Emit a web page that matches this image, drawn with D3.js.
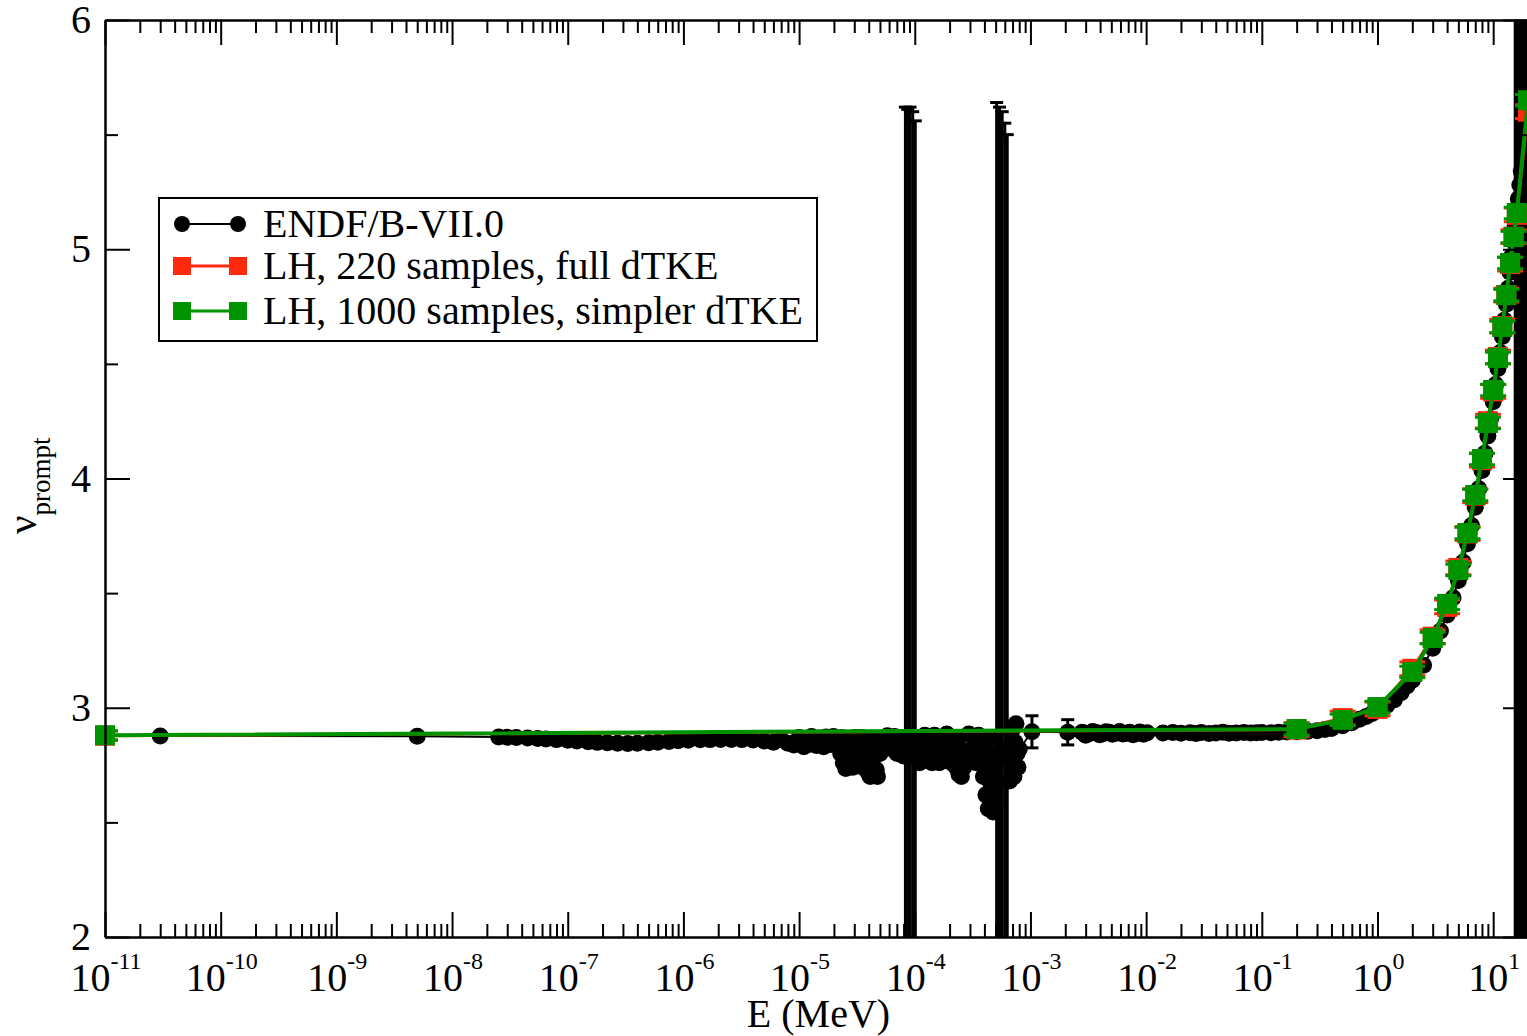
<!DOCTYPE html>
<html><head><meta charset="utf-8">
<script src="https://cdn.jsdelivr.net/npm/d3@7"></script>
<style>
body{margin:0;background:#fff}
svg{display:block}
text{font-family:"Liberation Serif","Times New Roman",Times,serif;fill:#000}
</style>
</head><body>
<svg id="chart" width="1527" height="1036"></svg>
<script>
// ---------------- data ----------------
const xMajorTicks = [1e-11,1e-10,1e-9,1e-8,1e-7,1e-6,1e-5,1e-4,1e-3,1e-2,1e-1,1,10];
const xTickExponents = ["-11","-10","-9","-8","-7","-6","-5","-4","-3","-2","-1","0","1"];
const yMajorTicks = [2,3,4,5,6];
const yMinorTicks = [2.5,3.5,4.5,5.5];
const seriesLabels = ["ENDF/B-VII.0","LH, 220 samples, full dTKE","LH, 1000 samples, simpler dTKE"];
const xTitle = "E (MeV)";

// ENDF/B-VII.0 evaluation (energy in MeV, nu prompt, uncertainty)
const endfE = [
 3e-11,5e-9,2.53e-8,3.0e-8,3.6e-8,4.5e-8,5.5e-8,6.5e-8,8e-8,1e-7,1.2e-7,1.5e-7,1.8e-7,2.2e-7,2.7e-7,3.3e-7,4e-7,5e-7,6e-7,7.5e-7,9e-7,
 1.1e-6,1.4e-6,1.7e-6,2.1e-6,2.6e-6,3.2e-6,4e-6,5e-6,6e-6,7e-6,8e-6,9e-6,
 1.00e-5,1.05e-5,1.10e-5,1.16e-5,1.22e-5,1.28e-5,1.34e-5,1.41e-5,1.48e-5,1.55e-5,1.63e-5,1.71e-5,1.80e-5,1.89e-5,1.98e-5,
 2.08e-5,2.18e-5,2.29e-5,2.35e-5,2.41e-5,2.47e-5,2.53e-5,2.59e-5,2.65e-5,2.72e-5,2.79e-5,2.86e-5,2.93e-5,3.00e-5,3.07e-5,3.15e-5,3.23e-5,
 3.31e-5,3.39e-5,3.47e-5,3.56e-5,3.65e-5,3.73e-5,3.82e-5,3.92e-5,4.02e-5,4.12e-5,4.22e-5,4.32e-5,4.43e-5,4.54e-5,4.65e-5,4.76e-5,
 5.00e-5,5.25e-5,5.52e-5,5.79e-5,6.08e-5,6.39e-5,6.70e-5,7.04e-5,7.39e-5,7.76e-5,8.0e-5,
 8.3e-5,8.7e-5,9.1e-5,9.6e-5,1.01e-4,
 1.05e-4,1.10e-4,1.16e-4,1.22e-4,1.28e-4,1.34e-4,1.41e-4,1.48e-4,1.55e-4,1.63e-4,1.71e-4,1.80e-4,1.89e-4,1.98e-4,
 2.08e-4,2.18e-4,2.29e-4,2.35e-4,2.41e-4,2.47e-4,2.53e-4,2.59e-4,2.65e-4,2.79e-4,2.93e-4,3.07e-4,3.23e-4,3.39e-4,3.56e-4,3.73e-4,
 3.82e-4,3.92e-4,4.02e-4,4.12e-4,4.22e-4,4.32e-4,4.43e-4,4.54e-4,4.65e-4,4.76e-4,4.86e-4,4.95e-4,
 5.1e-4,5.4e-4,5.7e-4,6.0e-4,6.3e-4,
 6.6e-4,6.75e-4,6.9e-4,7.05e-4,7.2e-4,7.35e-4,7.5e-4,7.65e-4,7.8e-4,8.0e-4,
 1.03e-3,2.1e-3,2.8e-3,3.0e-3,3.2e-3,3.45e-3,3.7e-3,3.95e-3,4.2e-3,4.5e-3,4.8e-3,5.1e-3,5.5e-3,5.9e-3,6.3e-3,6.7e-3,7.2e-3,7.7e-3,8.2e-3,8.8e-3,9.5e-3,1.02e-2,
 1.4e-2,1.7e-2,2.0e-2,2.4e-2,2.7e-2,3.0e-2,3.5e-2,4.0e-2,4.6e-2,5.2e-2,6.0e-2,7.0e-2,8.0e-2,9.0e-2,
 0.1,0.12,0.14,0.165,0.2,0.25,0.3,0.35,0.4,0.5,0.6,0.7,0.8,0.9,1.0,1.2,1.4,1.6,1.8,2.0,2.5,3,3.5,4,4.5,5,5.5,6,6.5,7,7.5,8,8.5,9,9.5,
 10,10.5,11,11.5,12,12.5,13,13.5,14,14.5,15,15.5,16,16.5,17,17.5,18,18.5,19,19.5,20
];
const endfNu = [
 2.877,2.876,2.872,2.871,2.870,2.868,2.866,2.864,2.861,2.858,2.855,2.852,2.849,2.847,2.845,2.844,2.845,2.847,2.850,2.853,2.856,
 2.858,2.860,2.861,2.862,2.862,2.861,2.859,2.855,2.850,2.862,2.845,2.838,
 2.870,2.845,2.830,2.862,2.840,2.875,2.850,2.835,2.868,2.845,2.830,2.872,2.850,2.840,2.875,
 2.855,2.838,2.800,2.870,2.760,2.820,2.735,2.860,2.775,2.740,2.820,2.760,2.740,2.800,2.870,2.750,2.790,
 2.830,2.745,2.870,2.830,2.740,2.770,2.850,2.720,2.800,2.700,2.760,2.740,2.860,2.790,2.730,2.700,
 2.800,2.860,2.830,2.878,2.845,2.820,2.875,2.800,2.830,2.870,2.790,
 2.820,2.850,2.800,2.830,2.860,
 2.840,2.760,2.800,2.880,2.770,2.830,2.760,2.880,2.800,2.760,2.850,2.770,2.885,2.800,
 2.760,2.840,2.740,2.860,2.710,2.800,2.700,2.760,2.740,2.810,2.885,2.770,2.830,2.760,2.880,2.780,
 2.840,2.700,2.820,2.620,2.760,2.560,2.680,2.600,2.870,2.545,2.740,2.600,
 2.800,2.780,2.820,2.790,2.810,
 2.680,2.800,2.900,2.760,2.700,2.850,2.930,2.800,2.740,2.820,
 2.895,2.893,2.893,2.880,2.887,2.896,2.892,2.882,2.886,2.895,2.893,2.884,2.889,2.896,2.885,2.888,2.893,2.882,2.887,2.894,2.884,2.891,
 2.890,2.892,2.889,2.891,2.888,2.892,2.888,2.890,2.893,2.889,2.890,2.892,2.890,2.891,
 2.892,2.891,2.893,2.894,2.895,2.897,2.900,2.905,2.910,2.922,2.935,2.950,2.962,2.975,2.990,3.010,3.035,3.065,3.095,3.120,3.185,3.260,3.335,3.405,3.480,3.555,3.635,3.715,3.795,3.875,3.955,4.035,4.110,4.185,4.260,
 4.335,4.410,4.480,4.550,4.620,4.690,4.760,4.830,4.900,4.970,5.035,5.100,5.160,5.220,5.280,5.340,5.400,5.460,5.520,5.580,5.640
];
const endfErr = [
 0,0,0,0,0,0,0,0,0,0,0,0,0,0,0,0,0,0,0,0,0,
 0,0,0,0,0,0,0,0,0,0,0,0,
 0,0,0,0,0,0,0,0,0,0,0,0,0,0,0,
 0,0,0,0,0,0,0,0,0,0,0,0,0,0,0,0,0,
 0,0,0,0,0,0,0,0,0,0,0,0,0,0,0,0,
 0,0,0,0,0,0,0,0,0,0,0,
 2.80,2.76,2.82,2.77,2.70,
 0,0,0,0,0,0,0,0,0,0,0,0,0,0,
 0,0,0,0,0,0,0,0,0,0,0,0,0,0,0,0,
 0,0,0,0,0,0,0,0,0,0,0,0,
 2.84,2.84,2.78,2.76,2.69,
 0,0,0,0,0,0,0,0,0,0,
 0.07,0.055,0,0,0,0,0,0,0,0,0,0,0,0,0,0,0,0,0,0,0,0,
 0,0,0,0,0,0,0,0,0,0,0,0,0,0,
 0,0,0,0,0,0,0,0,0,0,0,0,0,0,0,0,0,0,0,0,0,0,0,0,0,0,0,0,0,0,0,0,0,0,0,
 0,0,0,0,0,0,0,0,0,0,0,3.5,3.6,3.6,4.0,4.0,4.0,4.0,4.0,4.0,4.0
];

// Latin-hypercube model calculations
const lhE = [1e-11,0.2,0.5,1,2,3,4,5,6,7,8,9,10,11,12,13,14,15,16,20];
const lh220Nu  = [2.878,2.905,2.955,2.995,3.170,3.310,3.440,3.610,3.760,3.925,4.080,4.250,4.380,4.530,4.665,4.800,4.935,5.055,5.150,5.600];
const lh220Err = [0.02,0.03,0.03,0.03,0.03,0.03,0.03,0.03,0.03,0.03,0.03,0.03,0.03,0.03,0.03,0.03,0.03,0.03,0.03,0.03];
const lh1000Nu  = [2.880,2.907,2.947,3.003,3.156,3.304,3.453,3.601,3.762,3.928,4.085,4.242,4.386,4.526,4.661,4.800,4.940,5.053,5.158,5.650];
const lh1000Err = [0.02,0.025,0.025,0.025,0.025,0.025,0.025,0.025,0.025,0.025,0.025,0.025,0.025,0.025,0.025,0.025,0.025,0.025,0.025,0.025];

const colors = {endf:"#000000", lh220:"#ff2a0e", lh1000:"#009300"};

// ---------------- chart ----------------
const L = 105, R = 1528, T = 20, B = 937;
const svg = d3.select("#chart");
const x = d3.scaleLog().domain([1e-11, 20]).range([L, R]);
const y = d3.scaleLinear().domain([2, 6]).range([B, T]);

svg.append("defs").append("clipPath").attr("id","plotclip")
  .append("rect").attr("x",L).attr("y",T).attr("width",R-L).attr("height",B-T);

const xMinorTicks = [];
xMajorTicks.forEach(d => { for (let k=2;k<=9;k++){ const v=d*k; if (v<=20) xMinorTicks.push(v);} });

function toRows(E, V, Er){ return E.map((e,i)=>({e, v:V[i], err:Er[i]})); }
const endf = toRows(endfE, endfNu, endfErr);
const lh220 = toRows(lhE, lh220Nu, lh220Err);
const lh1000 = toRows(lhE, lh1000Nu, lh1000Err);

const line = d3.line().x(d=>x(d.e)).y(d=>y(d.v));

function errorBars(g, rows, color, width, cap){
  const eb = g.append("g").attr("clip-path","url(#plotclip)")
    .attr("stroke",color).attr("stroke-width",width).attr("fill","none");
  rows.filter(d=>d.err>0).forEach(d=>{
    const cx = x(d.e), y1 = y(d.v-d.err), y2 = y(d.v+d.err);
    eb.append("line").attr("x1",cx).attr("x2",cx).attr("y1",y1).attr("y2",y2);
    eb.append("line").attr("x1",cx-cap/2).attr("x2",cx+cap/2).attr("y1",y1).attr("y2",y1);
    eb.append("line").attr("x1",cx-cap/2).attr("x2",cx+cap/2).attr("y1",y2).attr("y2",y2);
  });
}

const data = svg.append("g");
// ENDF
errorBars(data, endf, colors.endf, 3, 13);
data.append("path").datum(endf).attr("clip-path","url(#plotclip)")
  .attr("d",line).attr("fill","none").attr("stroke",colors.endf).attr("stroke-width",2);
data.append("g").selectAll("circle").data(endf).join("circle")
  .attr("cx",d=>x(d.e)).attr("cy",d=>y(d.v)).attr("r",8.5).attr("fill",colors.endf);
// LH 220
errorBars(data, lh220, colors.lh220, 3, 26);
data.append("path").datum(lh220).attr("clip-path","url(#plotclip)")
  .attr("d",line).attr("fill","none").attr("stroke",colors.lh220).attr("stroke-width",3);
data.append("g").selectAll("rect").data(lh220).join("rect")
  .attr("x",d=>x(d.e)-10).attr("y",d=>y(d.v)-10).attr("width",20).attr("height",20).attr("fill",colors.lh220);
// LH 1000
errorBars(data, lh1000, colors.lh1000, 3, 26);
data.append("path").datum(lh1000).attr("clip-path","url(#plotclip)")
  .attr("d",line).attr("fill","none").attr("stroke",colors.lh1000).attr("stroke-width",4);
data.append("g").selectAll("rect").data(lh1000).join("rect")
  .attr("x",d=>x(d.e)-10).attr("y",d=>y(d.v)-10).attr("width",20).attr("height",20).attr("fill",colors.lh1000);

// ---------------- axes ----------------
function styleAxis(g){
  g.selectAll("path.domain").attr("stroke","#000").attr("stroke-width",2.5);
  g.selectAll(".tick line").attr("stroke","#000").attr("stroke-width",2);
  g.selectAll(".tick text").remove();
}
const axes = svg.append("g");
function axisPair(axisFn, scale, minor, major, transform){
  axes.append("g").attr("transform",transform)
    .call(axisFn(scale).tickValues(minor).tickSizeInner(-13).tickSizeOuter(0).tickFormat(()=>""))
    .call(g=>g.select(".domain").remove()).call(styleAxis);
  axes.append("g").attr("transform",transform)
    .call(axisFn(scale).tickValues(major).tickSizeInner(-25).tickSizeOuter(0).tickFormat(()=>""))
    .call(styleAxis);
}
axisPair(d3.axisBottom, x, xMinorTicks, xMajorTicks, `translate(0,${B})`);
axisPair(d3.axisTop, x, xMinorTicks, xMajorTicks, `translate(0,${T})`);
axisPair(d3.axisLeft, y, yMinorTicks, yMajorTicks, `translate(${L},0)`);
axisPair(d3.axisRight, y, yMinorTicks, yMajorTicks, `translate(${R},0)`);

// tick labels
const xl = svg.append("g").attr("font-size",40).attr("text-anchor","middle");
xMajorTicks.forEach((v,i)=>{
  const t = xl.append("text").attr("x",x(v)+1).attr("y",991);
  t.append("tspan").text("10");
  t.append("tspan").attr("font-size",24).attr("dy",-22).text(xTickExponents[i]);
});
const yl = svg.append("g").attr("font-size",40).attr("text-anchor","end");
yMajorTicks.forEach(v=>{
  yl.append("text").attr("x",91).attr("y",y(v)+13).text(v);
});

// axis titles
svg.append("text").attr("x",(L+R)/2+2).attr("y",1027).attr("font-size",40)
  .attr("text-anchor","middle").text(xTitle);
const yt = svg.append("text").attr("transform","translate(36,534) rotate(-90)").attr("font-size",41);
yt.append("tspan").text("\u03bd");
yt.append("tspan").attr("font-size",27).attr("dy",14).text("prompt");

// legend
const lg = svg.append("g");
lg.append("rect").attr("x",159).attr("y",198).attr("width",658).attr("height",143)
  .attr("fill","#fff").attr("stroke","#000").attr("stroke-width",2);
const rowsY = [224,266,311];
const legendKeys = ["endf","lh220","lh1000"];
legendKeys.forEach((k,i)=>{
  const yy = rowsY[i], c = colors[k];
  lg.append("line").attr("x1",182).attr("x2",238).attr("y1",yy).attr("y2",yy)
    .attr("stroke",c).attr("stroke-width",k==="endf"?2:3);
  [182,238].forEach(cx=>{
    if (k==="endf") lg.append("circle").attr("cx",cx).attr("cy",yy).attr("r",8).attr("fill",c);
    else lg.append("rect").attr("x",cx-9).attr("y",yy-9).attr("width",18).attr("height",18).attr("fill",c);
  });
  lg.append("text").attr("x",263).attr("y",yy+13).attr("font-size",40).text(seriesLabels[i]);
});
</script>
</body></html>
